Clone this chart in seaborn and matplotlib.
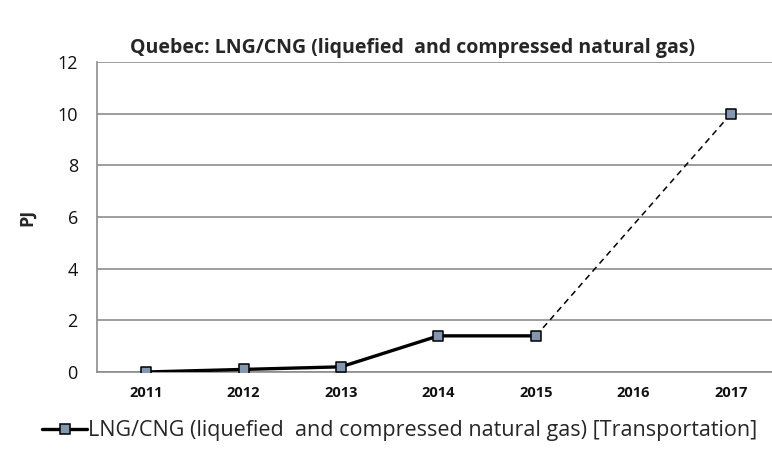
import matplotlib
matplotlib.use("Agg")
import matplotlib.pyplot as plt
import numpy as np
import pandas as pd
import seaborn as sns
from matplotlib.lines import Line2D

years = ['2011', '2012', '2013', '2014', '2015', '2016', '2017']
values = [0.0, 0.1, 0.2, 1.4, 1.4, np.nan, 10.0]
series_name = 'LNG/CNG (liquefied  and compressed natural gas) [Transportation]'
title = 'Quebec: LNG/CNG (liquefied  and compressed natural gas)'

sns.set_style('white')
plt.rcParams['font.family'] = ['Open Sans', 'DejaVu Sans']

df = pd.DataFrame({'year': years, 'value': values})
df['pos'] = np.arange(len(df))

fig = plt.figure(figsize=(7.72, 4.57), dpi=100)
ax = fig.add_axes([0.126, 0.186, 0.884, 0.678])

grey = '#8c8c8c'
face = '#8497b0'

# solid part: consecutive years with data
valid = df.dropna()
first_gap = df['value'].isna().idxmax()
solid = df.iloc[:first_gap]
sns.lineplot(data=solid, x='pos', y='value', color='black', lw=2.4, ax=ax, zorder=3)

# dashed part across the missing year
after = valid[valid['pos'] >= first_gap - 1]
ax.plot(after['pos'], after['value'], color='black', lw=1.1, ls=(0, (4, 3)), zorder=3)

sns.scatterplot(data=valid, x='pos', y='value', marker='s', s=50, color=face,
                edgecolor='black', linewidth=1.1, ax=ax, zorder=4)

ax.set_xlim(-0.5, len(years) - 0.5)
ax.set_ylim(0, 12)
ax.set_yticks(np.arange(0, 13, 2))
ax.yaxis.grid(True, color=grey, lw=1.2)
ax.set_axisbelow(True)

ax.set_xticks(df['pos'])
ax.set_xticklabels(years, fontsize=10.5, fontweight='bold', color='#111111')
ax.set_xticks(np.arange(-0.5, len(years), 1), minor=True)
ax.tick_params(axis='x', which='major', length=0, pad=10)
ax.tick_params(axis='x', which='minor', length=5, width=1.2, color=grey, direction='out')
ax.tick_params(axis='y', length=6, width=1.2, color=grey, direction='out', labelsize=13, pad=8)
ax.tick_params(axis='y', labelcolor='#111111')

for side in ['top', 'right']:
    ax.spines[side].set_visible(False)
for side in ['left', 'bottom']:
    ax.spines[side].set_color(grey)
    ax.spines[side].set_linewidth(1.2)

ax.set_xlabel('')
ax.set_ylabel('PJ', fontsize=13, fontweight='bold', labelpad=15)
fig.text(0.534, 0.894, title, ha='center', va='center', fontsize=14, fontweight='bold')

handle = Line2D([], [], color='black', lw=2.4, marker='s', markersize=7,
                markerfacecolor=face, markeredgecolor='black', markeredgewidth=1.1)
fig.legend([handle], [series_name], loc='center', bbox_to_anchor=(0.518, 0.057),
           frameon=False, fontsize=15.5, handlelength=2.1, handletextpad=0.05)

fig.savefig('out.png', dpi=100)
